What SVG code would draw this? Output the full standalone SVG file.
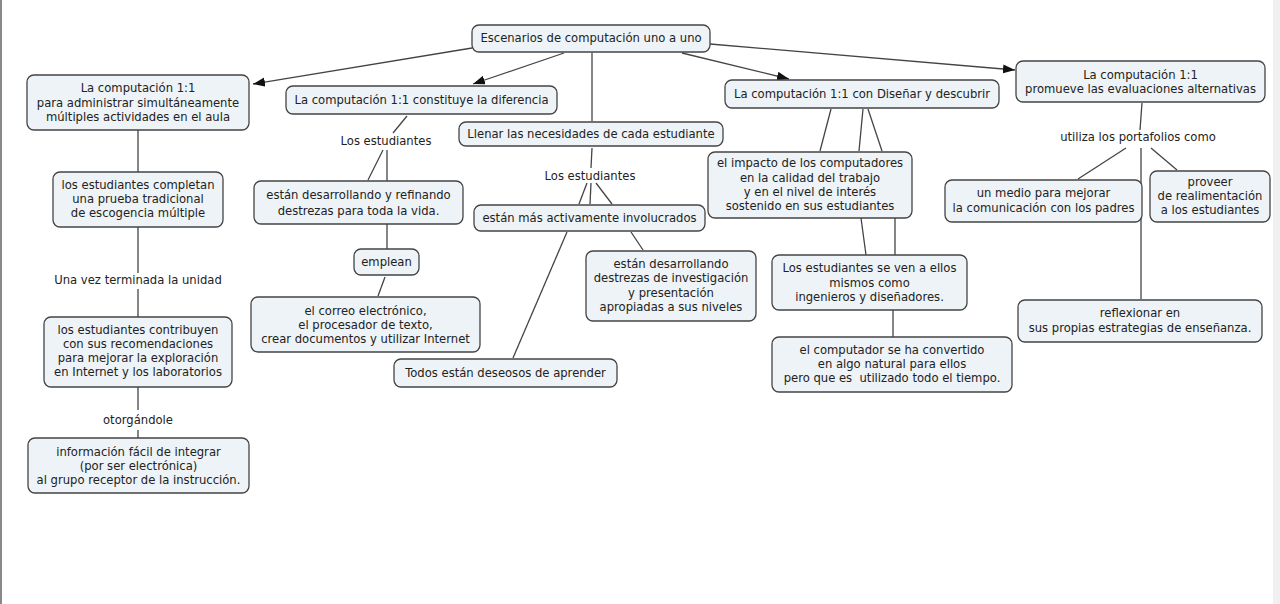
<svg xmlns="http://www.w3.org/2000/svg" width="1280" height="604" viewBox="0 0 1280 604">
<defs>
<marker id="arr" markerWidth="13" markerHeight="10" refX="12" refY="4.5" orient="auto" markerUnits="userSpaceOnUse">
<path d="M0,0 L12,4.5 L0,9 z" fill="#111"/>
</marker>
<style>
.n rect{fill:#edf3f6;stroke:#444;stroke-width:1.3}
.sh{fill:#bbb;stroke:none}
text{font-family:"DejaVu Sans","Liberation Sans",sans-serif;font-size:11.6px;fill:#222;text-anchor:middle}
.c line{stroke:#444;stroke-width:1.3}
.c .a{marker-end:url(#arr)}
</style>
</defs>
<rect x="0" y="0" width="1280" height="604" fill="#fff"/>
<rect x="0" y="0" width="2" height="604" fill="#888"/>
<rect x="1273" y="0" width="7" height="604" fill="#f0f0f0"/>

<g class="c" id="connectors">
<line class="a" x1="472" y1="48" x2="253" y2="84"/>
<line class="a" x1="564" y1="53" x2="473" y2="84"/>
<line x1="592" y1="53" x2="592" y2="121"/>
<line class="a" x1="682" y1="53" x2="789" y2="79"/>
<line class="a" x1="710" y1="44" x2="1015" y2="70"/>
<line x1="138" y1="130" x2="138" y2="172"/>
<line x1="138" y1="227" x2="138" y2="273"/>
<line x1="138" y1="289" x2="138" y2="317"/>
<line x1="138" y1="387" x2="138" y2="410"/>
<line x1="138" y1="430" x2="138" y2="438"/>
<line x1="407" y1="116" x2="393" y2="133"/>
<line x1="383" y1="150" x2="368" y2="180"/>
<line x1="387" y1="150" x2="387" y2="181"/>
<line x1="387" y1="224" x2="387" y2="249"/>
<line x1="385" y1="277" x2="378" y2="296"/>
<line x1="592" y1="148" x2="591" y2="168"/>
<line x1="587" y1="183" x2="579" y2="204"/>
<line x1="591" y1="183" x2="590" y2="204"/>
<line x1="596" y1="183" x2="612" y2="204"/>
<line x1="567" y1="232" x2="513" y2="358"/>
<line x1="631" y1="232" x2="643" y2="250"/>
<line x1="831" y1="109" x2="820" y2="151"/>
<line x1="863" y1="109" x2="859" y2="151"/>
<line x1="868" y1="109" x2="882" y2="151"/>
<line x1="861" y1="218" x2="866" y2="255"/>
<line x1="895" y1="218" x2="895" y2="255"/>
<line x1="893" y1="310" x2="893" y2="337"/>
<line x1="1142" y1="103" x2="1140" y2="130"/>
<line x1="1126" y1="148" x2="1078" y2="179"/>
<line x1="1141" y1="148" x2="1141" y2="299"/>
<line x1="1151" y1="148" x2="1177" y2="170"/>
</g>

<g id="root" class="n"><rect x="472" y="25" width="238" height="27" rx="7"/><text x="591" y="42">Escenarios de computación uno a uno</text></g>
<g id="nA" class="n"><rect x="27" y="75" width="222" height="55" rx="7"/><text x="138" y="92">La computación 1:1</text><text x="138" y="107">para administrar simultáneamente</text><text x="138" y="121">múltiples actividades en el aula</text></g>
<g id="nB" class="n"><rect x="286" y="86" width="271" height="28" rx="7"/><text x="421.5" y="104">La computación 1:1 constituye la diferencia</text></g>
<g id="nC" class="n"><rect x="459" y="122" width="264" height="24" rx="7"/><text x="591" y="138">Llenar las necesidades de cada estudiante</text></g>
<g id="nD" class="n"><rect x="725" y="80" width="274" height="28" rx="7"/><text x="862" y="98">La computación 1:1 con Diseñar y descubrir</text></g>
<g id="nE" class="n"><rect x="1016" y="61" width="249" height="41" rx="7"/><text x="1140.5" y="79">La computación 1:1</text><text x="1140.5" y="93">promueve las evaluaciones alternativas</text></g>
<g id="nF" class="n"><rect x="53" y="172" width="170" height="55" rx="7"/><text x="138" y="189">los estudiantes completan</text><text x="138" y="203">una prueba tradicional</text><text x="138" y="217">de escogencia múltiple</text></g>
<g id="lbl1"><text x="138" y="284">Una vez terminada la unidad</text></g>
<g id="nG" class="n"><rect x="44" y="317" width="188" height="70" rx="7"/><text x="138" y="334">los estudiantes contribuyen</text><text x="138" y="348">con sus recomendaciones</text><text x="138" y="362">para mejorar la exploración</text><text x="138" y="376">en Internet y los laboratorios</text></g>
<g id="lbl2"><text x="138" y="424">otorgándole</text></g>
<g id="nH" class="n"><rect x="28" y="438" width="221" height="55" rx="7"/><text x="138.5" y="456">información fácil de integrar</text><text x="138.5" y="470">(por ser electrónica)</text><text x="138.5" y="484">al grupo receptor de la instrucción.</text></g>
<g id="lbl3"><text x="386" y="145">Los estudiantes</text></g>
<g id="nI" class="n"><rect x="254" y="181" width="209" height="43" rx="7"/><text x="358.5" y="199">están desarrollando y refinando</text><text x="358.5" y="215">destrezas para toda la vida.</text></g>
<g id="nEmp" class="n"><rect x="354" y="249" width="65" height="26" rx="7"/><text x="386.5" y="266">emplean</text></g>
<g id="nJ" class="n"><rect x="251" y="297" width="229" height="55" rx="7"/><text x="365.5" y="315">el correo electrónico,</text><text x="365.5" y="329">el procesador de texto,</text><text x="365.5" y="343">crear documentos y utilizar Internet</text></g>
<g id="lbl4"><text x="590" y="180">Los estudiantes</text></g>
<g id="nK" class="n"><rect x="474" y="205" width="231" height="26" rx="7"/><text x="589.5" y="222">están más activamente involucrados</text></g>
<g id="nL" class="n"><rect x="394" y="359" width="223" height="28" rx="7"/><text x="505.5" y="377">Todos están deseosos de aprender</text></g>
<g id="nM" class="n"><rect x="586" y="251" width="170" height="70" rx="7"/><text x="671" y="268">están desarrollando</text><text x="671" y="282">destrezas de investigación</text><text x="671" y="297">y presentación</text><text x="671" y="311">apropiadas a sus niveles</text></g>
<g id="nN" class="n"><rect x="708" y="152" width="204" height="66" rx="7"/><text x="810" y="167">el impacto de los computadores</text><text x="810" y="182">en la calidad del trabajo</text><text x="810" y="196">y en el nivel de interés</text><text x="810" y="210">sostenido en sus estudiantes</text></g>
<g id="nO" class="n"><rect x="772" y="255" width="195" height="55" rx="7"/><text x="869.5" y="272">Los estudiantes se ven a ellos</text><text x="869.5" y="287">mismos como</text><text x="869.5" y="301">ingenieros y diseñadores.</text></g>
<g id="nP" class="n"><rect x="772" y="337" width="240" height="55" rx="7"/><text x="892" y="354">el computador se ha convertido</text><text x="892" y="368">en algo natural para ellos</text><text x="892" y="382" xml:space="preserve">pero que es  utilizado todo el tiempo.</text></g>
<g id="lbl5"><text x="1138" y="141">utiliza los portafolios como</text></g>
<g id="nQ" class="n"><rect x="945" y="180" width="197" height="42" rx="7"/><text x="1043.5" y="197">un medio para mejorar</text><text x="1043.5" y="212">la comunicación con los padres</text></g>
<g id="nS" class="n"><rect x="1150" y="171" width="120" height="51" rx="7"/><text x="1210" y="186">proveer</text><text x="1210" y="200">de realimentación</text><text x="1210" y="214">a los estudiantes</text></g>
<g id="nR" class="n"><rect x="1018" y="300" width="244" height="42" rx="7"/><text x="1140" y="317">reflexionar en</text><text x="1140" y="332">sus propias estrategias de enseñanza.</text></g>
</svg>
